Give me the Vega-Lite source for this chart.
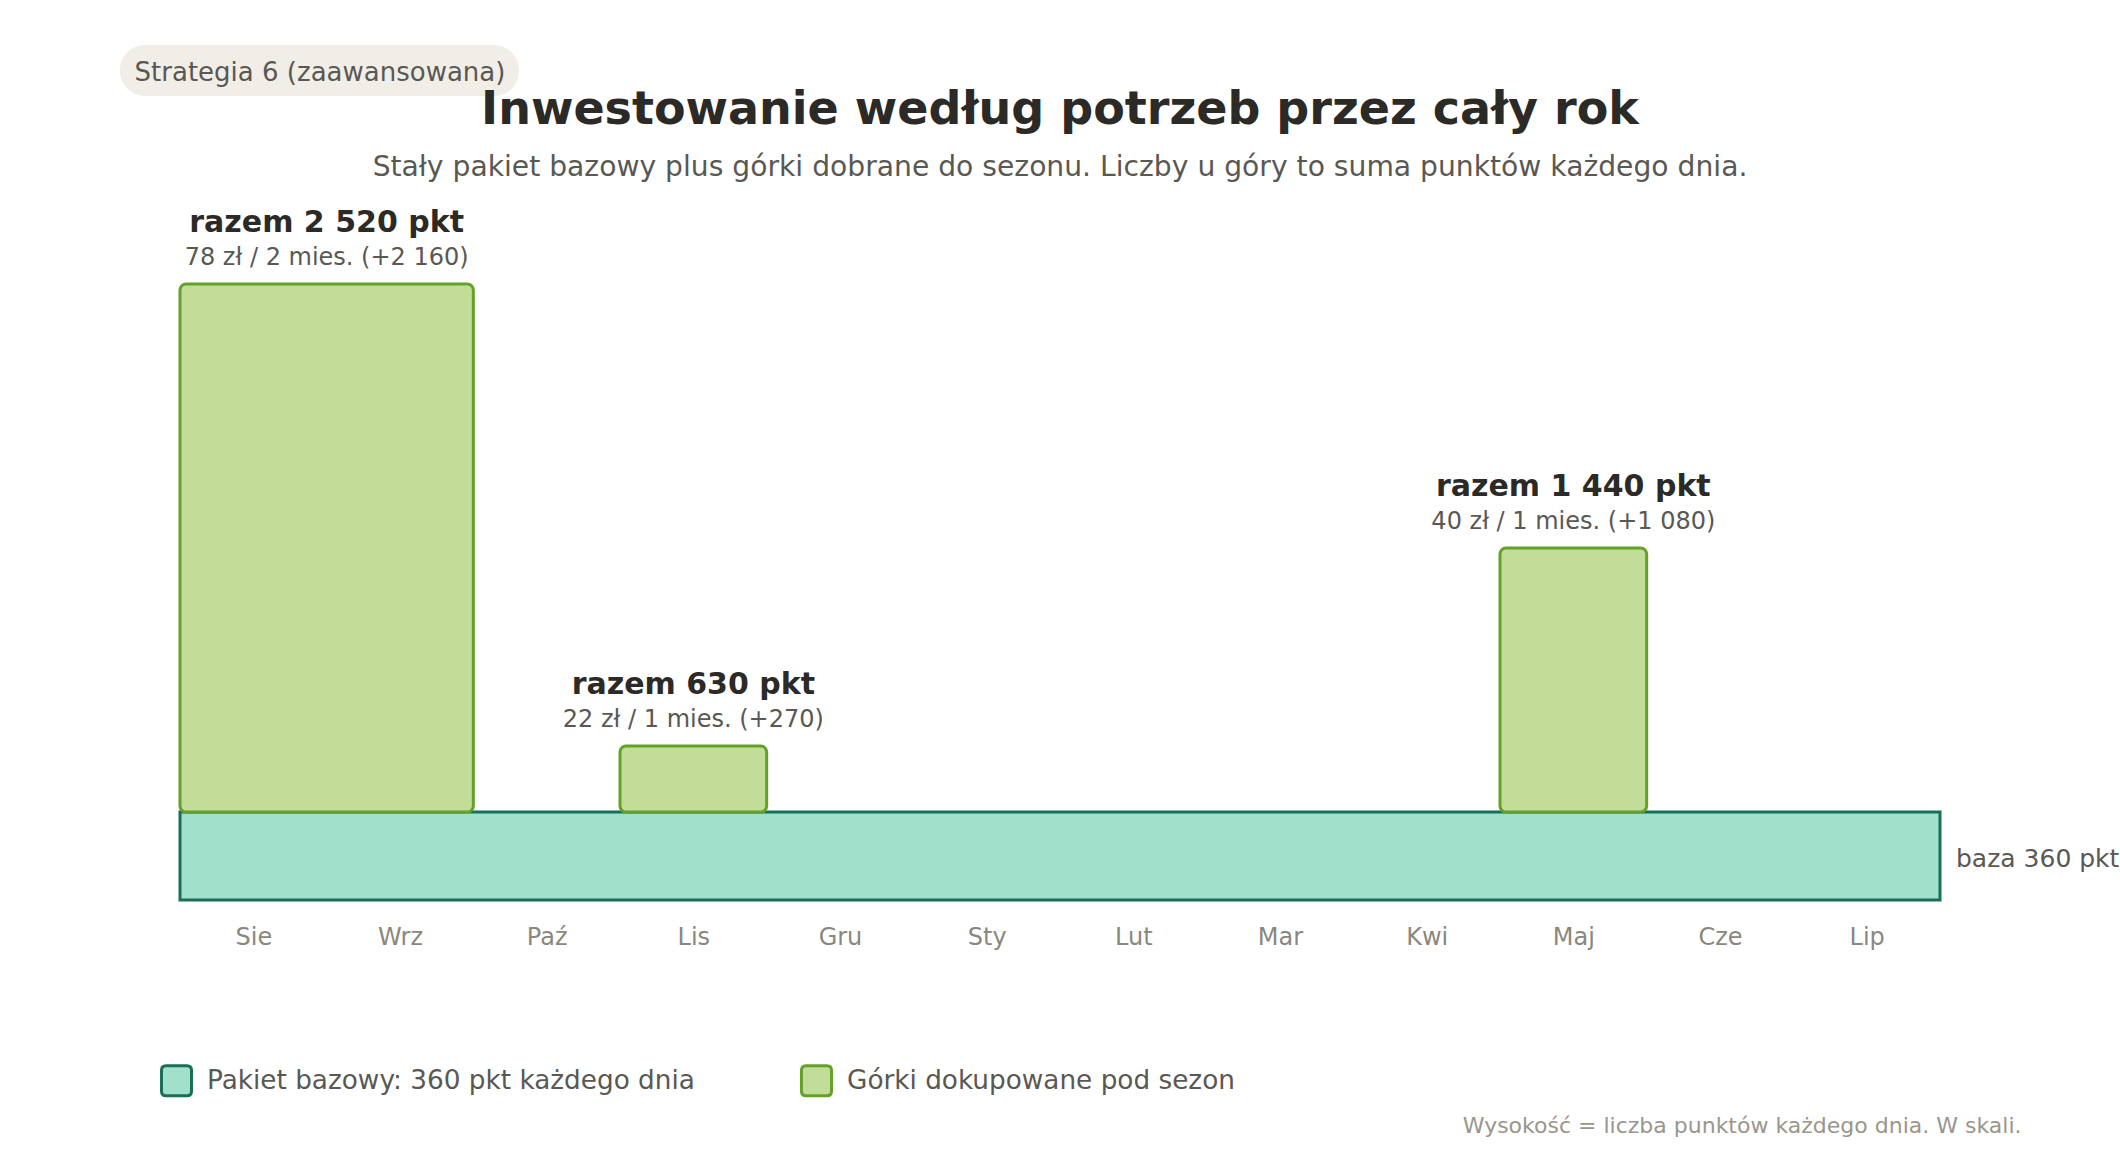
{
  "$schema": "https://vega.github.io/schema/vega-lite/v6.json",
  "width": 1760,
  "height": 616,
  "autosize": {"type": "none"},
  "padding": {"left": 180, "top": 284, "right": 180, "bottom": 260},
  "background": "white",
  "config": {
    "view": {"stroke": null},
    "font": "DejaVu Sans"
  },
  "title": {
    "text": "Inwestowanie według potrzeb przez cały rok",
    "subtitle": "Stały pakiet bazowy plus górki dobrane do sezonu. Liczby u góry to suma punktów każdego dnia.",
    "anchor": "middle",
    "frame": "group",
    "font": "DejaVu Sans",
    "fontSize": 46,
    "fontWeight": "bold",
    "color": "#2b2a26",
    "subtitleFont": "DejaVu Sans",
    "subtitleFontSize": 28.2,
    "subtitleColor": "#5a5853",
    "subtitlePadding": 20,
    "offset": -137
  },
  "datasets": {
    "base": [
      {"kind": "Pakiet bazowy: 360 pkt każdego dnia", "start": 0, "end": 12, "low": 0, "high": 360, "tag": "baza 360 pkt"}
    ],
    "peaks": [
      {"kind": "Górki dokupowane pod sezon", "start": 0, "end": 2, "mid": 1, "low": 360, "high": 2520, "label": "razem 2 520 pkt", "sub": "78 zł / 2 mies. (+2 160)"},
      {"kind": "Górki dokupowane pod sezon", "start": 3, "end": 4, "mid": 3.5, "low": 360, "high": 630, "label": "razem 630 pkt", "sub": "22 zł / 1 mies. (+270)"},
      {"kind": "Górki dokupowane pod sezon", "start": 9, "end": 10, "mid": 9.5, "low": 360, "high": 1440, "label": "razem 1 440 pkt", "sub": "40 zł / 1 mies. (+1 080)"}
    ],
    "badge": [
      {"badge": "Strategia 6 (zaawansowana)"}
    ]
  },
  "layer": [
    {
      "data": {"name": "base"},
      "mark": {"type": "rect", "strokeWidth": 3},
      "encoding": {
        "x": {
          "field": "start", "type": "quantitative",
          "scale": {"domain": [0, 12], "nice": false, "zero": false},
          "axis": {
            "values": [0.5, 1.5, 2.5, 3.5, 4.5, 5.5, 6.5, 7.5, 8.5, 9.5, 10.5, 11.5],
            "labelExpr": "['Sie','Wrz','Paź','Lis','Gru','Sty','Lut','Mar','Kwi','Maj','Cze','Lip'][floor(datum.value)]",
            "domain": false, "ticks": false, "grid": false,
            "labelFont": "DejaVu Sans", "labelFontSize": 24, "labelColor": "#8a877e",
            "labelPadding": 25, "labelFlush": false,
            "title": "Wysokość = liczba punktów każdego dnia. W skali.",
            "titleFont": "DejaVu Sans", "titleFontSize": 22, "titleFontWeight": "normal",
            "titleColor": "#9a968c", "titleAlign": "right", "titleBaseline": "middle",
            "titleX": 1841, "titleY": 225
          }
        },
        "x2": {"field": "end"},
        "y": {"field": "low", "type": "quantitative", "scale": {"domain": [0, 2520], "nice": false}, "axis": null},
        "y2": {"field": "high"},
        "fill": {
          "field": "kind", "type": "nominal",
          "scale": {"domain": ["Pakiet bazowy: 360 pkt każdego dnia", "Górki dokupowane pod sezon"], "range": ["#a1e1cb", "#c1dd97"]},
          "legend": {
            "title": null, "orient": "none", "legendX": -20, "legendY": 780, "direction": "horizontal",
            "labelFont": "DejaVu Sans", "labelFontSize": 26.3, "labelColor": "#5a5853", "labelOffset": 14, "labelLimit": 1000,
            "symbolType": "M -0.7,-1 L 0.7,-1 Q 1,-1 1,-0.7 L 1,0.7 Q 1,1 0.7,1 L -0.7,1 Q -1,1 -1,0.7 L -1,-0.7 Q -1,-1 -0.7,-1 Z",
            "symbolSize": 900, "symbolStrokeWidth": 3, "columnPadding": 100, "padding": 0
          }
        },
        "stroke": {
          "field": "kind", "type": "nominal",
          "scale": {"domain": ["Pakiet bazowy: 360 pkt każdego dnia", "Górki dokupowane pod sezon"], "range": ["#1b6e58", "#64a02a"]},
          "legend": {
            "title": null, "orient": "none", "legendX": -20, "legendY": 780, "direction": "horizontal",
            "labelFont": "DejaVu Sans", "labelFontSize": 26.3, "labelColor": "#5a5853", "labelOffset": 14, "labelLimit": 1000,
            "symbolType": "M -0.7,-1 L 0.7,-1 Q 1,-1 1,-0.7 L 1,0.7 Q 1,1 0.7,1 L -0.7,1 Q -1,1 -1,0.7 L -1,-0.7 Q -1,-1 -0.7,-1 Z",
            "symbolSize": 900, "symbolStrokeWidth": 3, "columnPadding": 100, "padding": 0
          }
        }
      }
    },
    {
      "data": {"name": "peaks"},
      "mark": {"type": "rect", "strokeWidth": 3, "cornerRadius": 6},
      "encoding": {
        "x": {"field": "start", "type": "quantitative"},
        "x2": {"field": "end"},
        "y": {"field": "low", "type": "quantitative"},
        "y2": {"field": "high"},
        "fill": {"field": "kind", "type": "nominal"},
        "stroke": {"field": "kind", "type": "nominal"}
      }
    },
    {
      "data": {"name": "peaks"},
      "mark": {"type": "text", "align": "center", "baseline": "middle", "dy": -61, "fontSize": 30, "fontWeight": "bold", "color": "#2b2a26", "font": "DejaVu Sans"},
      "encoding": {
        "x": {"field": "mid", "type": "quantitative"},
        "y": {"field": "high", "type": "quantitative"},
        "text": {"field": "label"}
      }
    },
    {
      "data": {"name": "peaks"},
      "mark": {"type": "text", "align": "center", "baseline": "middle", "dy": -26, "fontSize": 24, "color": "#5a5853", "font": "DejaVu Sans"},
      "encoding": {
        "x": {"field": "mid", "type": "quantitative"},
        "y": {"field": "high", "type": "quantitative"},
        "text": {"field": "sub"}
      }
    },
    {
      "data": {"name": "base"},
      "mark": {"type": "text", "align": "left", "baseline": "middle", "dx": 16, "dy": 47, "fontSize": 25, "color": "#5a5853", "font": "DejaVu Sans"},
      "encoding": {
        "x": {"field": "end", "type": "quantitative"},
        "y": {"field": "high", "type": "quantitative"},
        "text": {"field": "tag"}
      }
    },
    {
      "data": {"name": "badge"},
      "mark": {"type": "rect", "cornerRadius": 25, "fill": "#f1eee7"},
      "encoding": {
        "x": {"datum": -0.409, "type": "quantitative"},
        "x2": {"datum": 2.311},
        "y": {"datum": 3498, "type": "quantitative"},
        "y2": {"datum": 3289}
      }
    },
    {
      "data": {"name": "badge"},
      "mark": {"type": "text", "align": "center", "baseline": "middle", "fontSize": 26, "color": "#5a5853", "font": "DejaVu Sans"},
      "encoding": {
        "x": {"datum": 0.9545, "type": "quantitative"},
        "y": {"datum": 3383, "type": "quantitative"},
        "text": {"field": "badge", "type": "nominal"}
      }
    }
  ]
}
